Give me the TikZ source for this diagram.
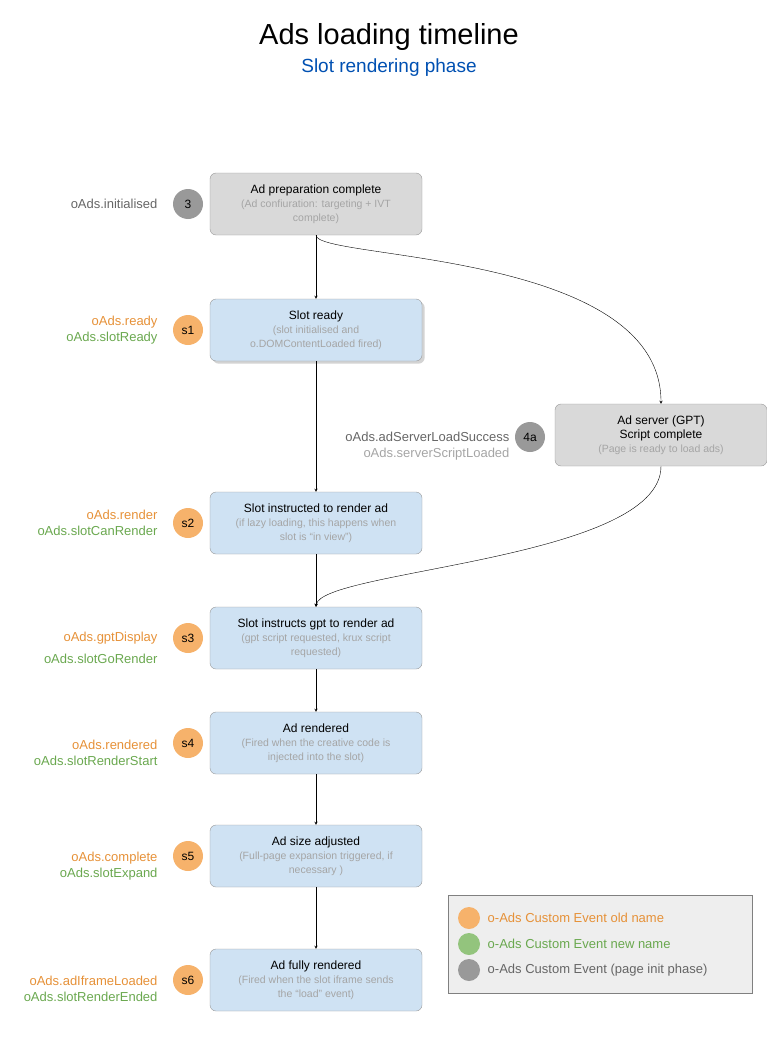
\documentclass[tikz,border=0pt]{standalone}
\usepackage{fontspec}
\setmainfont{Liberation Sans}
\usetikzlibrary{positioning, shadows}

\definecolor{oldname}{HTML}{E69138}
\definecolor{oldcirc}{HTML}{F6B26B}
\definecolor{newname}{HTML}{6AA84F}
\definecolor{newcirc}{HTML}{93C47D}
\definecolor{initcirc}{HTML}{999999}
\definecolor{inittext}{HTML}{666666}
\definecolor{slotfill}{HTML}{CFE2F3}
\definecolor{prepfill}{HTML}{D9D9D9}
\definecolor{subtext}{HTML}{A5A5A5}

\begin{document}
\begin{tikzpicture}[x=1pt, y=-1pt]
  \tikzset{ptr/.style={->, >=stealth}}
  \tikzset{evbox/.style={draw=gray!80, rounded corners=6pt, fill=slotfill, minimum width=212pt, minimum height=62pt, align=center, font=\fontsize{12}{14}\selectfont}}
  \tikzset{prepbox/.style={evbox, fill=prepfill}}
  \tikzset{evcirc/.style={circle, minimum size=30pt, inner sep=0pt, font=\fontsize{12}{14}\selectfont}}
  \tikzset{evname/.style={anchor=east, align=right, font=\fontsize{13}{16}\selectfont}}
  \newcommand\sub[1]{{\fontsize{10.5}{13}\selectfont\color{subtext}#1}}

  \useasboundingbox (0,0) rectangle (767,1049);

  \node[font=\fontsize{29}{34}\selectfont] (title) at (389,37) {Ads loading timeline};
  \node[font=\fontsize{19}{22}\selectfont, text=blue!55!cyan!70!black] (subtitle) at (389,68) {Slot rendering phase};

  % boxes
  \node[prepbox] (prep) at (316,204) {Ad preparation complete\\\sub{(Ad confiuration: targeting + IVT}\\\sub{complete)}};
  \node[evbox, drop shadow={opacity=0.35}] (ready) at (316,330) {Slot ready\\\sub{(slot initialised and}\\\sub{o.DOMContentLoaded fired)}};
  \node[prepbox] (gpt) at (661,435) {Ad server (GPT)\\Script complete\\\sub{(Page is ready to load ads)}};
  \node[evbox] (render) at (316,523) {Slot instructed to render ad\\\sub{(if lazy loading, this happens when}\\\sub{slot is ``in view'')}};
  \node[evbox] (display) at (316,638) {Slot instructs gpt to render ad\\\sub{(gpt script requested, krux script}\\\sub{requested)}};
  \node[evbox] (rendered) at (316,743) {Ad rendered\\\sub{(Fired when the creative code is}\\\sub{injected into the slot)}};
  \node[evbox] (size) at (316,856) {Ad size adjusted\\\sub{(Full-page expansion triggered, if}\\\sub{necessary )}};
  \node[evbox] (full) at (316,980) {Ad fully rendered\\\sub{(Fired when the slot iframe sends}\\\sub{the ``load'' event)}};

  % circles and event names
  \foreach \name/\y/\lbl/\col in {prep/204/3/initcirc, ready/330/s1/oldcirc, render/523/s2/oldcirc, display/638/s3/oldcirc, rendered/743/s4/oldcirc, size/856/s5/oldcirc, full/980/s6/oldcirc}{
    \node[evcirc, fill=\col] (c-\name) at (188,\y) {\lbl};
  }
  \node[evcirc, fill=initcirc] (c-gpt) at (530,437) {4a};

  \node[evname, text=inittext] (n-prep) at (161,204) {oAds.initialised};
  \node[evname] (n-ready) at (161,330) {\color{oldname}oAds.ready\\\color{newname}oAds.slotReady};
  \node[evname] (n-gpt) at (513,446) {\color{inittext}oAds.adServerLoadSuccess\\\color{subtext}oAds.serverScriptLoaded};
  \node[evname] (n-render) at (161,523) {\color{oldname}oAds.render\\\color{newname}oAds.slotCanRender};
  \node[evname, align=right, font=\fontsize{13}{22}\selectfont] (n-display) at (161,648) {\color{oldname}oAds.gptDisplay\\\color{newname}oAds.slotGoRender};
  \node[evname] (n-rendered) at (161,753) {\color{oldname}oAds.rendered\\\color{newname}oAds.slotRenderStart};
  \node[evname] (n-size) at (161,866) {\color{oldname}oAds.complete\\\color{newname}oAds.slotExpand};
  \node[evname] (n-full) at (161,989) {\color{oldname}oAds.adIframeLoaded\\\color{newname}oAds.slotRenderEnded};

  % connectors
  \draw[ptr] (prep) -- (ready);
  \draw[ptr] (prep.south) .. controls (316,260) and (661,250) .. (gpt.north);
  \draw[ptr] (ready) -- (render);
  \draw[ptr] (render) -- (display);
  \draw[ptr] (gpt.south) .. controls (661,560) and (320,570) .. (display.north);
  \draw[ptr] (display) -- (rendered);
  \draw[ptr] (rendered) -- (size);
  \draw[ptr] (size) -- (full);

  % legend
  \node[draw=gray, fill=gray!13, minimum width=304pt, minimum height=98pt] (legend) at (600,944) {};
  \foreach \y/\col/\txt/\tcol [count=\i] in {918/oldcirc/old name/oldname, 944/newcirc/new name/newname, 970/initcirc/(page init phase)/inittext}{
    \node[circle, fill=\col, minimum size=22pt, inner sep=0pt] (lc\i) at (469,\y) {};
    \node[right=4pt of lc\i, text=\tcol, font=\fontsize{13}{16}\selectfont] (lt\i) {o-Ads Custom Event \txt};
  }
\end{tikzpicture}
\end{document}
